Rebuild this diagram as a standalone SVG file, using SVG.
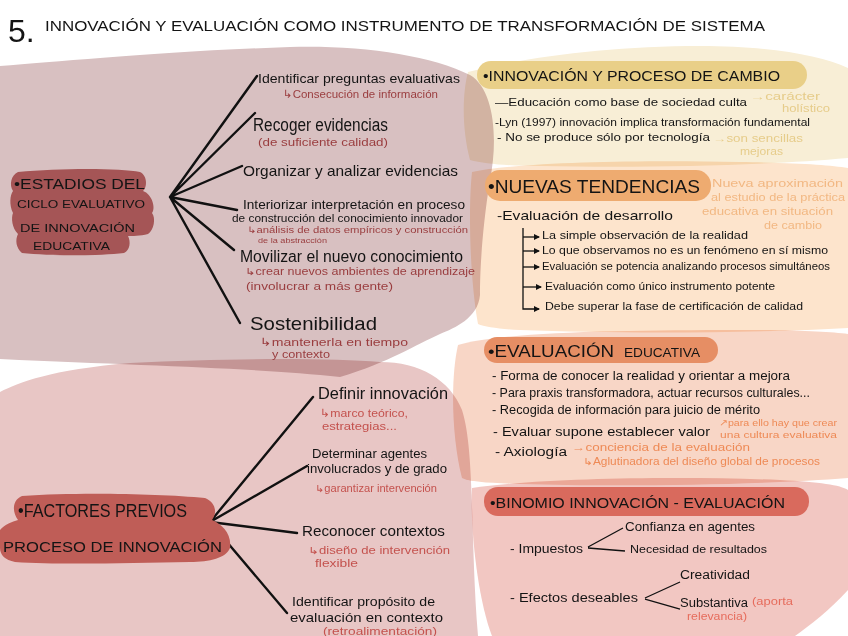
<svg xmlns="http://www.w3.org/2000/svg" width="848" height="636" viewBox="0 0 848 636">
<defs>
<style>
text{font-family:"Liberation Sans","DejaVu Sans",sans-serif;fill:#141414}
.blob{mix-blend-mode:multiply}
.rn{fill:#9a3d3f}
.rl{fill:#c4524e}
.yn{fill:#e6cc8a}
.on{fill:#f2b883}
.en{fill:#ee8a56}
.bn{fill:#e66c5c}
.fan{stroke:#111;stroke-width:2.4;fill:none;stroke-linecap:round}
.thin{stroke:#111;stroke-width:1.3;fill:none}
</style>
<marker id="ah" markerWidth="6" markerHeight="6" refX="5" refY="3" orient="auto" markerUnits="userSpaceOnUse">
<path d="M0,0 L6,3 L0,6 Z" fill="#111"/>
</marker>
</defs>
<rect width="848" height="636" fill="#fff"/>
<g id="backgrounds">
<path class="blob" fill="#d8c0c1" d="M0,66 C60,62 150,52 290,47 C360,45 430,55 470,75 C495,90 498,140 490,180 C482,230 480,270 480,295 C478,318 455,328 440,334 C415,345 390,362 340,377 C260,368 150,366 0,359 Z"/>
<path class="blob" fill="#e8c6c5" d="M0,392 C20,382 50,370 130,363 C230,358 330,358 380,362 C420,362 450,380 462,410 C475,450 470,540 478,636 L0,636 Z"/>
<path class="blob" fill="#f8eed6" d="M468,72 C520,58 610,46 700,46 C770,46 820,55 848,68 L848,158 C760,166 640,168 540,166 C510,166 485,164 470,160 C462,130 462,95 468,72 Z"/>
<path class="blob" fill="#fde4cc" d="M472,172 C520,162 640,160 740,162 C800,163 830,165 848,168 L848,328 C760,333 620,334 520,330 C500,329 485,327 478,324 C470,280 468,210 472,172 Z"/>
<path class="blob" fill="#f8d6c6" d="M458,345 C500,332 620,330 740,330 C800,330 830,332 848,334 L848,478 C760,485 620,487 520,484 C490,483 470,482 462,478 C452,440 450,380 458,345 Z"/>
<path class="blob" fill="#f2c7c2" d="M472,488 C540,478 680,476 780,480 C820,482 840,485 848,490 L848,590 C830,610 810,625 795,636 L492,636 C478,600 470,530 472,488 Z"/>
</g>
<g id="title">
<text x="8" y="42" font-size="32">5.</text>
<text x="45" y="31" font-size="15" textLength="720" lengthAdjust="spacingAndGlyphs">INNOVACIÓN Y EVALUACIÓN COMO INSTRUMENTO DE TRANSFORMACIÓN DE SISTEMA</text>
</g>
<g id="connectors">
<path class="fan" d="M170,197 L257,76 M170,197 L255,113 M170,197 L242,166 M170,197 L237,210 M170,197 L234,250 M170,197 L240,323"/>
<path class="fan" d="M210,522 L313,397 M210,522 L307,466 M210,522 L297,533 M210,522 L287,613"/>
<path class="thin" d="M523,228 V309 H539" marker-end="url(#ah)"/>
<path class="thin" d="M523,237 H539" marker-end="url(#ah)"/>
<path class="thin" d="M523,251 H539" marker-end="url(#ah)"/>
<path class="thin" d="M523,267 H539" marker-end="url(#ah)"/>
<path class="thin" d="M523,287 H541" marker-end="url(#ah)"/>
<path class="thin" d="M588,547 L623,528 M588,548 L625,551"/>
<path class="thin" d="M645,598 L680,582 M645,599 L680,609"/>
</g>
<g id="estadios">
<path fill="#a55556" d="M18,172 C60,168 120,168 140,172 C148,176 147,188 143,191 C152,194 156,208 152,213 C156,218 154,230 148,234 C140,236 132,236 128,236 C131,242 130,250 124,253 C100,256 50,256 22,253 C16,248 15,240 18,234 C12,228 11,218 13,213 C9,205 10,195 13,191 C9,185 11,175 18,172 Z"/>
<text x="14" y="189" font-size="15" textLength="131" lengthAdjust="spacingAndGlyphs">•ESTADIOS DEL</text>
<text x="17" y="208" font-size="11" textLength="128" lengthAdjust="spacingAndGlyphs">CICLO EVALUATIVO</text>
<text x="20" y="232" font-size="11" textLength="115" lengthAdjust="spacingAndGlyphs">DE INNOVACIÓN</text>
<text x="33" y="250" font-size="11" textLength="77" lengthAdjust="spacingAndGlyphs">EDUCATIVA</text>
</g>
<g id="identificar-preguntas">
<text x="258" y="83" font-size="13" textLength="202" lengthAdjust="spacingAndGlyphs">Identificar preguntas evaluativas</text>
<text class="rn" x="283" y="98" font-size="11" textLength="155" lengthAdjust="spacingAndGlyphs">↳Consecución de información</text>
</g>
<g id="recoger">
<text x="253" y="131" font-size="18" textLength="135" lengthAdjust="spacingAndGlyphs">Recoger evidencias</text>
<text class="rn" x="258" y="146" font-size="10" textLength="130" lengthAdjust="spacingAndGlyphs">(de suficiente calidad)</text>
</g>
<g id="organizar">
<text x="243" y="176" font-size="15" textLength="215" lengthAdjust="spacingAndGlyphs">Organizar y analizar evidencias</text>
</g>
<g id="interiorizar">
<text x="243" y="209" font-size="12" textLength="222" lengthAdjust="spacingAndGlyphs">Interiorizar interpretación en proceso</text>
<text x="232" y="222" font-size="11" textLength="231" lengthAdjust="spacingAndGlyphs">de construcción del conocimiento innovador</text>
<text class="rn" x="247" y="233" font-size="9" textLength="221" lengthAdjust="spacingAndGlyphs">↳análisis de datos empíricos y construcción</text>
<text class="rn" x="258" y="243" font-size="8" textLength="69" lengthAdjust="spacingAndGlyphs">de la abstracción</text>
</g>
<g id="movilizar">
<text x="240" y="262" font-size="16" textLength="223" lengthAdjust="spacingAndGlyphs">Movilizar el nuevo conocimiento</text>
<text class="rn" x="245" y="275" font-size="10" textLength="230" lengthAdjust="spacingAndGlyphs">↳crear nuevos ambientes de aprendizaje</text>
<text class="rn" x="246" y="290" font-size="10" textLength="147" lengthAdjust="spacingAndGlyphs">(involucrar a más gente)</text>
</g>
<g id="sostenibilidad">
<text x="250" y="330" font-size="19" textLength="127" lengthAdjust="spacingAndGlyphs">Sostenibilidad</text>
<text class="rn" x="260" y="346" font-size="11" textLength="148" lengthAdjust="spacingAndGlyphs">↳mantenerla en tiempo</text>
<text class="rn" x="272" y="358" font-size="10" textLength="58" lengthAdjust="spacingAndGlyphs">y contexto</text>
</g>
<g id="factores">
<path fill="#bf5d57" d="M22,496 C80,492 160,494 205,498 C215,502 218,512 212,520 C222,524 232,534 230,548 C226,558 210,562 190,562 C130,563 60,565 15,562 C5,560 0,555 0,548 L0,530 C5,524 12,522 18,520 C12,512 12,500 22,496 Z"/>
<text x="18" y="517" font-size="18" textLength="169" lengthAdjust="spacingAndGlyphs">•FACTORES PREVIOS</text>
<text x="3" y="552" font-size="15" textLength="219" lengthAdjust="spacingAndGlyphs">PROCESO DE INNOVACIÓN</text>
</g>
<g id="definir">
<text x="318" y="399" font-size="17" textLength="130" lengthAdjust="spacingAndGlyphs">Definir innovación</text>
<text class="rl" x="320" y="417" font-size="11" textLength="88" lengthAdjust="spacingAndGlyphs">↳marco teórico,</text>
<text class="rl" x="322" y="430" font-size="11" textLength="75" lengthAdjust="spacingAndGlyphs">estrategias...</text>
</g>
<g id="determinar">
<text x="312" y="458" font-size="12" textLength="115" lengthAdjust="spacingAndGlyphs">Determinar agentes</text>
<text x="307" y="473" font-size="12" textLength="140" lengthAdjust="spacingAndGlyphs">involucrados y de grado</text>
<text class="rl" x="315" y="492" font-size="10" textLength="122" lengthAdjust="spacingAndGlyphs">↳garantizar intervención</text>
</g>
<g id="reconocer">
<text x="302" y="536" font-size="14" textLength="143" lengthAdjust="spacingAndGlyphs">Reconocer contextos</text>
<text class="rl" x="308" y="554" font-size="10" textLength="142" lengthAdjust="spacingAndGlyphs">↳diseño de intervención</text>
<text class="rl" x="315" y="567" font-size="10" textLength="43" lengthAdjust="spacingAndGlyphs">flexible</text>
</g>
<g id="identificar-proposito">
<text x="292" y="606" font-size="13" textLength="143" lengthAdjust="spacingAndGlyphs">Identificar propósito de</text>
<text x="290" y="622" font-size="13" textLength="153" lengthAdjust="spacingAndGlyphs">evaluación en contexto</text>
<text class="rl" x="323" y="635" font-size="10" textLength="114" lengthAdjust="spacingAndGlyphs">(retroalimentación)</text>
</g>
<g id="innovacion-cambio">
<rect x="477" y="61" width="330" height="28" rx="14" fill="#e9cf88"/>
<text x="483" y="81" font-size="15" textLength="297" lengthAdjust="spacingAndGlyphs">•INNOVACIÓN Y PROCESO DE CAMBIO</text>
<text x="495" y="106" font-size="11" textLength="252" lengthAdjust="spacingAndGlyphs">—Educación como base de sociedad culta</text>
<text class="yn" x="750" y="100" font-size="10" textLength="70" lengthAdjust="spacingAndGlyphs">→carácter</text>
<text class="yn" x="782" y="112" font-size="10" textLength="48" lengthAdjust="spacingAndGlyphs">holístico</text>
<text x="495" y="126" font-size="11" textLength="315" lengthAdjust="spacingAndGlyphs">-Lyn (1997) innovación implica transformación fundamental</text>
<text x="497" y="141" font-size="11" textLength="213" lengthAdjust="spacingAndGlyphs">- No se produce sólo por tecnología</text>
<text class="yn" x="713" y="142" font-size="10" textLength="90" lengthAdjust="spacingAndGlyphs">→son sencillas</text>
<text class="yn" x="740" y="155" font-size="10" textLength="43" lengthAdjust="spacingAndGlyphs">mejoras</text>
</g>
<g id="nuevas-tendencias">
<rect x="485" y="170" width="226" height="31" rx="15" fill="#eeab70"/>
<text x="488" y="193" font-size="19" textLength="212" lengthAdjust="spacingAndGlyphs">•NUEVAS TENDENCIAS</text>
<text class="on" x="712" y="187" font-size="11" textLength="131" lengthAdjust="spacingAndGlyphs">Nueva aproximación</text>
<text class="on" x="711" y="201" font-size="11" textLength="134" lengthAdjust="spacingAndGlyphs">al estudio de la práctica</text>
<text class="on" x="702" y="215" font-size="11" textLength="131" lengthAdjust="spacingAndGlyphs">educativa en situación</text>
<text class="on" x="764" y="229" font-size="11" textLength="58" lengthAdjust="spacingAndGlyphs">de cambio</text>
<text x="497" y="220" font-size="13" textLength="176" lengthAdjust="spacingAndGlyphs">-Evaluación de desarrollo</text>
<text x="542" y="239" font-size="10" textLength="206" lengthAdjust="spacingAndGlyphs">La simple observación de la realidad</text>
<text x="542" y="254" font-size="10" textLength="286" lengthAdjust="spacingAndGlyphs">Lo que observamos no es un fenómeno en sí mismo</text>
<text x="542" y="270" font-size="10" textLength="288" lengthAdjust="spacingAndGlyphs">Evaluación se potencia analizando procesos simultáneos</text>
<text x="545" y="290" font-size="10" textLength="230" lengthAdjust="spacingAndGlyphs">Evaluación como único instrumento potente</text>
<text x="545" y="310" font-size="10" textLength="258" lengthAdjust="spacingAndGlyphs">Debe superar la fase de certificación de calidad</text>
</g>
<g id="evaluacion-educativa">
<rect x="484" y="337" width="234" height="26" rx="13" fill="#e68e64"/>
<text x="488" y="357" font-size="17"><tspan textLength="126" lengthAdjust="spacingAndGlyphs">•EVALUACIÓN</tspan><tspan font-size="12" dx="10" textLength="76" lengthAdjust="spacingAndGlyphs">EDUCATIVA</tspan></text>
<text x="492" y="380" font-size="12" textLength="298" lengthAdjust="spacingAndGlyphs">- Forma de conocer la realidad y orientar a mejora</text>
<text x="492" y="397" font-size="12" textLength="318" lengthAdjust="spacingAndGlyphs">- Para praxis transformadora, actuar recursos culturales...</text>
<text x="492" y="414" font-size="12" textLength="268" lengthAdjust="spacingAndGlyphs">- Recogida de información para juicio de mérito</text>
<text x="493" y="436" font-size="13" textLength="217" lengthAdjust="spacingAndGlyphs">- Evaluar supone establecer valor</text>
<text class="en" x="719" y="426" font-size="9.5" textLength="118" lengthAdjust="spacingAndGlyphs">↗para ello hay que crear</text>
<text class="en" x="720" y="438" font-size="9.5" textLength="117" lengthAdjust="spacingAndGlyphs">una cultura evaluativa</text>
<text x="495" y="456" font-size="12" textLength="72" lengthAdjust="spacingAndGlyphs">- Axiología</text>
<text class="en" x="572" y="451" font-size="11" textLength="178" lengthAdjust="spacingAndGlyphs">→conciencia de la evaluación</text>
<text class="en" x="583" y="465" font-size="10" textLength="237" lengthAdjust="spacingAndGlyphs">↳Aglutinadora del diseño global de procesos</text>
</g>
<g id="binomio">
<rect x="484" y="487" width="325" height="29" rx="14" fill="#d96a5d"/>
<text x="490" y="508" font-size="15" textLength="295" lengthAdjust="spacingAndGlyphs">•BINOMIO INNOVACIÓN - EVALUACIÓN</text>
<text x="510" y="553" font-size="13" textLength="73" lengthAdjust="spacingAndGlyphs">- Impuestos</text>
<text x="625" y="531" font-size="12" textLength="130" lengthAdjust="spacingAndGlyphs">Confianza en agentes</text>
<text x="630" y="553" font-size="11" textLength="137" lengthAdjust="spacingAndGlyphs">Necesidad de resultados</text>
<text x="510" y="602" font-size="12" textLength="128" lengthAdjust="spacingAndGlyphs">- Efectos deseables</text>
<text x="680" y="579" font-size="12" textLength="70" lengthAdjust="spacingAndGlyphs">Creatividad</text>
<text x="680" y="607" font-size="12" textLength="68" lengthAdjust="spacingAndGlyphs">Substantiva</text>
<text class="bn" x="752" y="605" font-size="10" textLength="41" lengthAdjust="spacingAndGlyphs">(aporta</text>
<text class="bn" x="687" y="620" font-size="10" textLength="60" lengthAdjust="spacingAndGlyphs">relevancia)</text>
</g>
</svg>
